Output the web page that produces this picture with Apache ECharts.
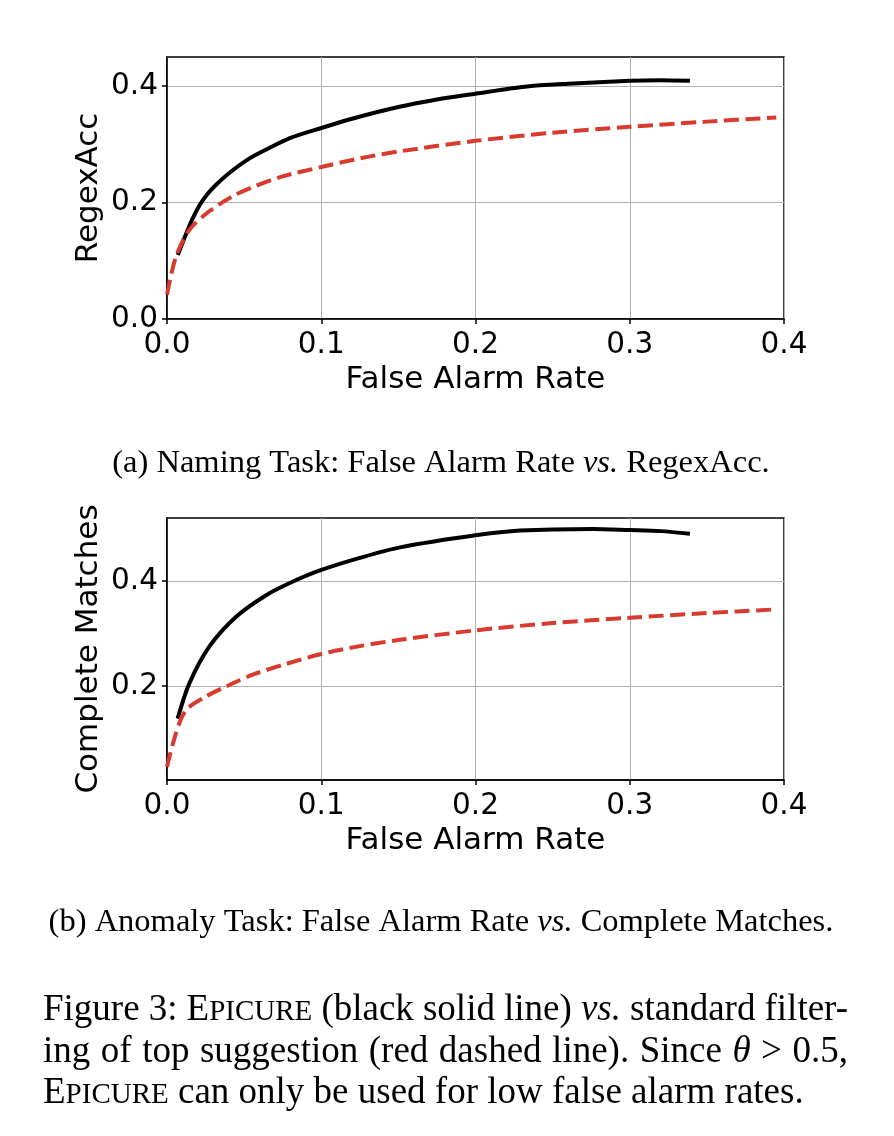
<!DOCTYPE html>
<html>
<head>
<meta charset="utf-8">
<script src="https://cdn.jsdelivr.net/npm/echarts@6/dist/echarts.min.js"></script>
<style>
  html, body { margin: 0; padding: 0; background: #fff; }
  #chart { width: 894px; height: 1136px; }
</style>
</head>
<body>
<div id="chart"></div>
<script>
// (a) naming task: false alarm rate vs RegexAcc
const namingEpicureFar = [0.007, 0.011, 0.016, 0.021, 0.026, 0.032, 0.04, 0.053, 0.065, 0.08, 0.1, 0.12, 0.15, 0.175, 0.2, 0.232, 0.26, 0.3, 0.32, 0.339];
const namingEpicureAcc = [0.11, 0.137, 0.169, 0.195, 0.214, 0.231, 0.25, 0.275, 0.292, 0.311, 0.328, 0.344, 0.364, 0.377, 0.387, 0.399, 0.404, 0.409, 0.410, 0.409];
const namingBaselineFar = [0, 0.0058, 0.0145, 0.0274, 0.0426, 0.056, 0.075, 0.1, 0.125, 0.151, 0.2, 0.25, 0.3, 0.35, 0.395];
const namingBaselineAcc = [0.042, 0.107, 0.153, 0.185, 0.211, 0.227, 0.245, 0.261, 0.276, 0.288, 0.306, 0.320, 0.330, 0.339, 0.346];

// (b) anomaly task: false alarm rate vs complete matches
const anomalyEpicureFar = [0.0069, 0.0145, 0.0274, 0.0448, 0.0643, 0.081, 0.1, 0.125, 0.151, 0.2, 0.229, 0.276, 0.3, 0.32, 0.339];
const anomalyEpicureMatch = [0.138, 0.205, 0.275, 0.332, 0.373, 0.398, 0.421, 0.444, 0.464, 0.487, 0.496, 0.499, 0.497, 0.495, 0.490];
const anomalyBaselineFar = [0, 0.0058, 0.0123, 0.0253, 0.0383, 0.056, 0.075, 0.1, 0.125, 0.151, 0.2, 0.25, 0.3, 0.35, 0.395];
const anomalyBaselineMatch = [0.046, 0.11, 0.154, 0.18, 0.199, 0.222, 0.24, 0.261, 0.276, 0.288, 0.306, 0.320, 0.330, 0.339, 0.346];

const namingYTicks = [0, 0.2, 0.4];
const anomalyYTicks = [0.2, 0.4];

const axisFont = 'DejaVu Sans';
const serif = 'Liberation Serif';
const red = '#d83a2e';

const chart = echarts.init(document.getElementById('chart'));

function xAxis(idx) {
  return {
    type: 'value',
    gridIndex: idx,
    min: 0,
    max: 0.4,
    interval: 0.1,
    name: 'False Alarm Rate',
    nameLocation: 'middle',
    nameGap: 45,
    nameTextStyle: { fontFamily: axisFont, fontSize: 31, color: '#000' },
    axisLine: { show: true, onZero: false, lineStyle: { color: '#000', width: 1.5 } },
    axisTick: { show: true, length: 5, lineStyle: { color: '#000', width: 1.5 } },
    axisLabel: { formatter: v => v.toFixed(1), fontFamily: axisFont, fontSize: 29.5, color: '#000', margin: 11 },
    splitLine: { show: true, lineStyle: { color: '#b0b0b0', width: 1 } }
  };
}

function yAxis(idx, name, min, max, ticks) {
  return {
    type: 'value',
    gridIndex: idx,
    min: min,
    max: max,
    name: name,
    nameLocation: 'middle',
    nameGap: 63,
    nameMoveOverlap: false,
    nameTextStyle: { fontFamily: axisFont, fontSize: 31, color: '#000' },
    axisLine: { show: true, onZero: false, lineStyle: { color: '#000', width: 1.5 } },
    axisTick: { show: true, length: 5, customValues: ticks, lineStyle: { color: '#000', width: 1.5 } },
    axisLabel: { customValues: ticks, formatter: v => v.toFixed(1), fontFamily: axisFont, fontSize: 29.5, color: '#000', margin: 9 },
    splitLine: { show: true, lineStyle: { color: '#b0b0b0', width: 1 } }
  };
}

function curve(name, far, vals, idx, dashed) {
  return {
    type: 'line',
    name: name,
    xAxisIndex: idx,
    yAxisIndex: idx,
    data: far.map((x, i) => [x, vals[i]]),
    showSymbol: false,
    smooth: 0.3,
    silent: true,
    z: dashed ? 3 : 2,
    lineStyle: { color: dashed ? red : '#000', width: 4, type: dashed ? [15, 6.5] : 'solid', cap: 'butt' }
  };
}

// captions: serif text, justified lines measured with a canvas
const capSize = 37;
const rich = {
  n: { fontSize: capSize, fontFamily: serif, color: '#000', verticalAlign: 'bottom' },
  i: { fontSize: capSize, fontFamily: serif, fontStyle: 'italic', color: '#000', verticalAlign: 'bottom' },
  s: { fontSize: Math.round(capSize * 0.78), fontFamily: serif, color: '#000', verticalAlign: 'bottom', padding: [0, 0, 2, 0] }
};
const ctx = document.createElement('canvas').getContext('2d');
const norm = w => typeof w === 'string' ? [[w, 'n']] : w;
function wordWidth(word) {
  return norm(word).reduce((sum, [t, k]) => {
    const st = rich[k];
    ctx.font = (st.fontStyle || 'normal') + ' normal ' + st.fontSize + 'px "' + serif + '"';
    return sum + ctx.measureText(t).width;
  }, 0);
}
const richText = w => norm(w).map(([t, k]) => '{' + k + '|' + t + '}').join('');

const captionLines = [
  { y: 1010, justify: true, words: ['Figure', '3:', [['E', 'n'], ['PICURE', 's']], '(black', 'solid', 'line)', [['vs.', 'i']], 'standard', 'filter-'] },
  { y: 1052, justify: true, words: ['ing', 'of', 'top', 'suggestion', '(red', 'dashed', 'line).', 'Since', [['θ', 'i']], '>', '0.5,'] },
  { y: 1093, justify: false, words: [[['E', 'n'], ['PICURE', 's']], 'can', 'only', 'be', 'used', 'for', 'low', 'false', 'alarm', 'rates.'] }
];
const capLeft = 43, capRight = 848;

const subRich = {
  n: { fontSize: 32.5, fontFamily: serif, color: '#000' },
  i: { fontSize: 32.5, fontFamily: serif, fontStyle: 'italic', color: '#000' }
};
const graphics = [
  {
    type: 'text', x: 441, y: 463,
    style: { text: '{n|(a) Naming Task: False Alarm Rate }{i|vs.}{n| RegexAcc.}', align: 'center', verticalAlign: 'middle', rich: subRich }
  },
  {
    type: 'text', x: 441, y: 922,
    style: { text: '{n|(b) Anomaly Task: False Alarm Rate }{i|vs.}{n| Complete Matches.}', align: 'center', verticalAlign: 'middle', rich: subRich }
  }
];

ctx.font = 'normal normal ' + capSize + 'px "' + serif + '"';
const spaceW = ctx.measureText(' ').width;
captionLines.forEach(line => {
  const widths = line.words.map(wordWidth);
  const total = widths.reduce((a, b) => a + b, 0);
  const gap = line.justify ? (capRight - capLeft - total) / (line.words.length - 1) : spaceW;
  let x = capLeft;
  line.words.forEach((w, i) => {
    graphics.push({
      type: 'text', x: x, y: line.y,
      style: { text: richText(w), rich: rich, align: 'left', verticalAlign: 'middle' }
    });
    x += widths[i] + gap;
  });
});

chart.setOption({
  backgroundColor: '#fff',
  animation: false,
  grid: [
    { left: 167, top: 57, width: 617, height: 262, show: true, borderColor: '#000', borderWidth: 1.5, containLabel: false },
    { left: 167, top: 518, width: 617, height: 262, show: true, borderColor: '#000', borderWidth: 1.5, containLabel: false }
  ],
  xAxis: [xAxis(0), xAxis(1)],
  yAxis: [
    yAxis(0, 'RegexAcc', 0, 0.45, namingYTicks),
    yAxis(1, 'Complete Matches', 0.021, 0.52, anomalyYTicks)
  ],
  series: [
    curve('EPICURE', namingEpicureFar, namingEpicureAcc, 0, false),
    curve('Top suggestion', namingBaselineFar, namingBaselineAcc, 0, true),
    curve('EPICURE', anomalyEpicureFar, anomalyEpicureMatch, 1, false),
    curve('Top suggestion', anomalyBaselineFar, anomalyBaselineMatch, 1, true)
  ],
  graphic: graphics
});
</script>
</body>
</html>
